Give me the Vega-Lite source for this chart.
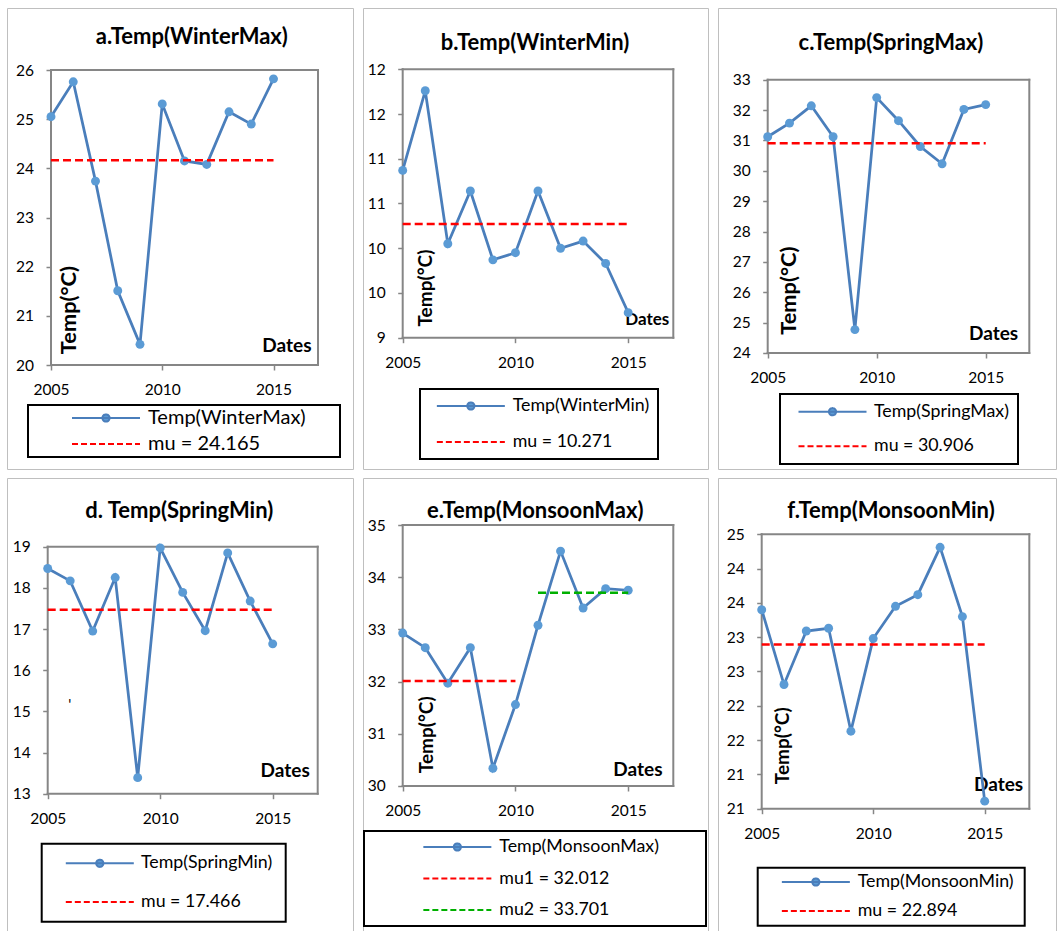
{
  "$schema": "https://vega.github.io/schema/vega-lite/v6.json",
  "padding": {"left": 6, "top": 7, "right": 0, "bottom": 0},
  "background": "white",
  "columns": 3,
  "spacing": {"row": 9, "column": 10},
  "align": "each",
  "bounds": "flush",
  "resolve": {"scale": {"fill": "independent", "stroke": "independent", "shape": "independent", "strokeDash": "independent"}, "legend": {"fill": "independent", "stroke": "independent", "shape": "independent", "strokeDash": "independent"}},
  "datasets": {
    "series": [
      {"panel": "a", "year": 2005, "temp": 25.05, "series": "Temp(WinterMax)"},
      {"panel": "a", "year": 2006, "temp": 25.76, "series": "Temp(WinterMax)"},
      {"panel": "a", "year": 2007, "temp": 23.74, "series": "Temp(WinterMax)"},
      {"panel": "a", "year": 2008, "temp": 21.51, "series": "Temp(WinterMax)"},
      {"panel": "a", "year": 2009, "temp": 20.42, "series": "Temp(WinterMax)"},
      {"panel": "a", "year": 2010, "temp": 25.31, "series": "Temp(WinterMax)"},
      {"panel": "a", "year": 2011, "temp": 24.15, "series": "Temp(WinterMax)"},
      {"panel": "a", "year": 2012, "temp": 24.08, "series": "Temp(WinterMax)"},
      {"panel": "a", "year": 2013, "temp": 25.15, "series": "Temp(WinterMax)"},
      {"panel": "a", "year": 2014, "temp": 24.90, "series": "Temp(WinterMax)"},
      {"panel": "a", "year": 2015, "temp": 25.82, "series": "Temp(WinterMax)"},
      {"panel": "b", "year": 2005, "temp": 10.87, "series": "Temp(WinterMin)"},
      {"panel": "b", "year": 2006, "temp": 11.76, "series": "Temp(WinterMin)"},
      {"panel": "b", "year": 2007, "temp": 10.05, "series": "Temp(WinterMin)"},
      {"panel": "b", "year": 2008, "temp": 10.64, "series": "Temp(WinterMin)"},
      {"panel": "b", "year": 2009, "temp": 9.87, "series": "Temp(WinterMin)"},
      {"panel": "b", "year": 2010, "temp": 9.95, "series": "Temp(WinterMin)"},
      {"panel": "b", "year": 2011, "temp": 10.64, "series": "Temp(WinterMin)"},
      {"panel": "b", "year": 2012, "temp": 10.00, "series": "Temp(WinterMin)"},
      {"panel": "b", "year": 2013, "temp": 10.08, "series": "Temp(WinterMin)"},
      {"panel": "b", "year": 2014, "temp": 9.83, "series": "Temp(WinterMin)"},
      {"panel": "b", "year": 2015, "temp": 9.28, "series": "Temp(WinterMin)"},
      {"panel": "c", "year": 2005, "temp": 31.12, "series": "Temp(SpringMax)"},
      {"panel": "c", "year": 2006, "temp": 31.57, "series": "Temp(SpringMax)"},
      {"panel": "c", "year": 2007, "temp": 32.14, "series": "Temp(SpringMax)"},
      {"panel": "c", "year": 2008, "temp": 31.12, "series": "Temp(SpringMax)"},
      {"panel": "c", "year": 2009, "temp": 24.77, "series": "Temp(SpringMax)"},
      {"panel": "c", "year": 2010, "temp": 32.41, "series": "Temp(SpringMax)"},
      {"panel": "c", "year": 2011, "temp": 31.65, "series": "Temp(SpringMax)"},
      {"panel": "c", "year": 2012, "temp": 30.80, "series": "Temp(SpringMax)"},
      {"panel": "c", "year": 2013, "temp": 30.23, "series": "Temp(SpringMax)"},
      {"panel": "c", "year": 2014, "temp": 32.02, "series": "Temp(SpringMax)"},
      {"panel": "c", "year": 2015, "temp": 32.18, "series": "Temp(SpringMax)"},
      {"panel": "d", "year": 2005, "temp": 18.47, "series": "Temp(SpringMin)"},
      {"panel": "d", "year": 2006, "temp": 18.17, "series": "Temp(SpringMin)"},
      {"panel": "d", "year": 2007, "temp": 16.95, "series": "Temp(SpringMin)"},
      {"panel": "d", "year": 2008, "temp": 18.25, "series": "Temp(SpringMin)"},
      {"panel": "d", "year": 2009, "temp": 13.39, "series": "Temp(SpringMin)"},
      {"panel": "d", "year": 2010, "temp": 18.97, "series": "Temp(SpringMin)"},
      {"panel": "d", "year": 2011, "temp": 17.89, "series": "Temp(SpringMin)"},
      {"panel": "d", "year": 2012, "temp": 16.96, "series": "Temp(SpringMin)"},
      {"panel": "d", "year": 2013, "temp": 18.85, "series": "Temp(SpringMin)"},
      {"panel": "d", "year": 2014, "temp": 17.68, "series": "Temp(SpringMin)"},
      {"panel": "d", "year": 2015, "temp": 16.64, "series": "Temp(SpringMin)"},
      {"panel": "e", "year": 2005, "temp": 32.93, "series": "Temp(MonsoonMax)"},
      {"panel": "e", "year": 2006, "temp": 32.65, "series": "Temp(MonsoonMax)"},
      {"panel": "e", "year": 2007, "temp": 31.97, "series": "Temp(MonsoonMax)"},
      {"panel": "e", "year": 2008, "temp": 32.65, "series": "Temp(MonsoonMax)"},
      {"panel": "e", "year": 2009, "temp": 30.34, "series": "Temp(MonsoonMax)"},
      {"panel": "e", "year": 2010, "temp": 31.56, "series": "Temp(MonsoonMax)"},
      {"panel": "e", "year": 2011, "temp": 33.08, "series": "Temp(MonsoonMax)"},
      {"panel": "e", "year": 2012, "temp": 34.50, "series": "Temp(MonsoonMax)"},
      {"panel": "e", "year": 2013, "temp": 33.41, "series": "Temp(MonsoonMax)"},
      {"panel": "e", "year": 2014, "temp": 33.78, "series": "Temp(MonsoonMax)"},
      {"panel": "e", "year": 2015, "temp": 33.75, "series": "Temp(MonsoonMax)"},
      {"panel": "f", "year": 2005, "temp": 23.40, "series": "Temp(MonsoonMin)"},
      {"panel": "f", "year": 2006, "temp": 22.31, "series": "Temp(MonsoonMin)"},
      {"panel": "f", "year": 2007, "temp": 23.09, "series": "Temp(MonsoonMin)"},
      {"panel": "f", "year": 2008, "temp": 23.13, "series": "Temp(MonsoonMin)"},
      {"panel": "f", "year": 2009, "temp": 21.63, "series": "Temp(MonsoonMin)"},
      {"panel": "f", "year": 2010, "temp": 22.98, "series": "Temp(MonsoonMin)"},
      {"panel": "f", "year": 2011, "temp": 23.45, "series": "Temp(MonsoonMin)"},
      {"panel": "f", "year": 2012, "temp": 23.62, "series": "Temp(MonsoonMin)"},
      {"panel": "f", "year": 2013, "temp": 24.31, "series": "Temp(MonsoonMin)"},
      {"panel": "f", "year": 2014, "temp": 23.30, "series": "Temp(MonsoonMin)"},
      {"panel": "f", "year": 2015, "temp": 20.61, "series": "Temp(MonsoonMin)"}
    ],
    "means": [
      {"panel": "a", "year": 2005, "year2": 2015, "temp": 24.165, "series": "mu = 24.165"},
      {"panel": "b", "year": 2005, "year2": 2015, "temp": 10.271, "series": "mu = 10.271"},
      {"panel": "c", "year": 2005, "year2": 2015, "temp": 30.906, "series": "mu = 30.906"},
      {"panel": "d", "year": 2005, "year2": 2015, "temp": 17.466, "series": "mu = 17.466"},
      {"panel": "e", "year": 2005, "year2": 2010, "temp": 32.012, "series": "mu1 = 32.012"},
      {"panel": "e", "year": 2011, "year2": 2015, "temp": 33.701, "series": "mu2 = 33.701"},
      {"panel": "f", "year": 2005, "year2": 2015, "temp": 22.894, "series": "mu = 22.894"}
    ]
  },
  "config": {
    "font": "Lato",
    "view": {"stroke": "#BFBFBF", "strokeWidth": 1},
    "rule": {"color": "#868686", "strokeWidth": 2, "strokeCap": "square"},
    "axis": {"grid": false, "domain": false, "tickColor": "#868686", "tickSize": 5, "tickWidth": 1.5, "labelFont": "Lato", "labelFontSize": 15.5, "labelColor": "#000000", "labelOverlap": false, "labelFlush": false, "titleFont": "Lato", "titleFontSize": 19, "titleFontWeight": "bold", "titleColor": "#000000"},
    "axisX": {"labelPadding": 12.5},
    "axisY": {"labelPadding": 12.4},
    "title": {"font": "Lato", "fontSize": 22, "fontWeight": "bold", "color": "#000000", "anchor": "middle", "frame": "group", "baseline": "alphabetic"},
    "legend": {"strokeColor": "#000000", "strokeWidth": 2, "fillColor": "#FFFFFF", "symbolSize": 256, "symbolStrokeWidth": 2, "symbolOpacity": 1, "labelFont": "Lato", "labelColor": "#000000", "labelLimit": 600, "labelFontSize": 17.8, "cornerRadius": 0}
  },
  "concat": [
    {
      "width": 346, "height": 461,
      "title": {"text": "a.Temp(WinterMax)", "offset": -41, "dx": 11.8},
      "encoding": {
        "x": {"field": "year", "type": "quantitative", "scale": {"domain": [2003.0225, 2018.573], "nice": false, "zero": false},
              "axis": {"values": [2005, 2010, 2015], "format": "d", "offset": -104, "title": "Dates", "titleX": 304, "titleY": -13.3, "titleAlign": "right", "titleBaseline": "alphabetic"}},
        "y": {"field": "temp", "type": "quantitative", "scale": {"domain": [17.885, 27.261], "nice": false, "zero": false},
              "axis": {"values": [20, 21, 22, 23, 24, 25, 26], "format": "d", "offset": -44, "title": "Temp(°C)", "titleFontSize": 21.8, "titleX": 24, "titleY": 345.7, "titleAngle": 270, "titleAlign": "left", "titleBaseline": "alphabetic"}}
      },
      "layer": [
        {"data": {"name": "series"}, "transform": [{"filter": "datum.panel === 'a' && datum.year === 2005"}], "mark": "rule", "encoding": {"x": {"datum": 2005, "type": "quantitative"}, "y": {"datum": 20, "type": "quantitative"}, "y2": {"datum": 26}}},
        {"data": {"name": "series"}, "transform": [{"filter": "datum.panel === 'a' && datum.year === 2005"}], "mark": "rule", "encoding": {"x": {"datum": 2017, "type": "quantitative"}, "y": {"datum": 20, "type": "quantitative"}, "y2": {"datum": 26}}},
        {"data": {"name": "series"}, "transform": [{"filter": "datum.panel === 'a' && datum.year === 2005"}], "mark": "rule", "encoding": {"y": {"datum": 20, "type": "quantitative"}, "x": {"datum": 2005, "type": "quantitative"}, "x2": {"datum": 2017}}},
        {"data": {"name": "series"}, "transform": [{"filter": "datum.panel === 'a' && datum.year === 2005"}], "mark": "rule", "encoding": {"y": {"datum": 26, "type": "quantitative"}, "x": {"datum": 2005, "type": "quantitative"}, "x2": {"datum": 2017}}},
        {"data": {"name": "series"}, "transform": [{"filter": "datum.panel === 'a'"}],
         "mark": {"type": "line", "color": "#4A7EBB", "strokeWidth": 2.75}},
        {"data": {"name": "series"}, "transform": [{"filter": "datum.panel === 'a'"}],
         "mark": {"type": "point", "filled": true, "size": 80, "color": "#5B9BD5", "opacity": 1}},
        {"data": {"name": "means"}, "transform": [{"filter": "datum.panel === 'a'"}],
         "mark": {"type": "rule", "color": "#FF0000", "strokeWidth": 2.5, "strokeDash": [8, 4], "strokeCap": "butt"},
         "encoding": {"x2": {"field": "year2"}}},
        {"data": {"values": []}, "mark": {"type": "point", "filled": true},
         "encoding": {
           "fill": {"field": "series", "type": "nominal", "scale": {"domain": ["Temp(WinterMax)", "mu = 24.165"], "range": ["#5B9BD5", "#FF0000"]},
             "legend": {"orient": "none", "legendX": 21, "legendY": 397, "title": null, "padding": 3, "rowPadding": 6, "labelFontSize": 20, "symbolOffset": 65, "labelOffset": 32}},
           "stroke": {"field": "series", "type": "nominal", "scale": {"domain": ["Temp(WinterMax)", "mu = 24.165"], "range": ["#4A7EBB", "#FF0000"]}},
           "shape": {"field": "series", "type": "nominal", "scale": {"domain": ["Temp(WinterMax)", "mu = 24.165"], "range": ["M-4.25,0H4.25M0.45,0C0.45,0.2485,0.2485,0.45,0,0.45C-0.2485,0.45,-0.45,0.2485,-0.45,0C-0.45,-0.2485,-0.2485,-0.45,0,-0.45C0.2485,-0.45,0.45,-0.2485,0.45,0ZM28.31,0", "M-4.25,0H4.25M28.31,0"]}},
           "strokeDash": {"field": "series", "type": "nominal", "scale": {"domain": ["Temp(WinterMax)", "mu = 24.165"], "range": [[1, 0], [6, 3]]}}
         }}
      ]
    },
    {
      "width": 345, "height": 461,
      "title": {"text": "b.Temp(WinterMin)", "offset": -46.7, "dx": -0.5},
      "encoding": {
        "x": {"field": "year", "type": "quantitative", "scale": {"domain": [2003.2395, 2018.5388], "nice": false, "zero": false},
              "axis": {"values": [2005, 2010, 2015], "format": "d", "offset": -131.3, "title": "Dates", "titleFontSize": 17, "titleX": 305.7, "titleY": -13.4, "titleAlign": "right", "titleBaseline": "alphabetic"}},
        "y": {"field": "temp", "type": "quantitative", "scale": {"domain": [7.5325, 12.685], "nice": false, "zero": false},
              "axis": {"values": [9, 9.5, 10, 10.5, 11, 11.5, 12], "format": ".0f", "offset": -39.7, "title": "Temp(°C)", "titleX": 28.3, "titleY": 318, "titleAngle": 270, "titleAlign": "left", "titleBaseline": "alphabetic"}}
      },
      "layer": [
        {"data": {"name": "series"}, "transform": [{"filter": "datum.panel === 'b' && datum.year === 2005"}], "mark": "rule", "encoding": {"x": {"datum": 2005, "type": "quantitative"}, "y": {"datum": 9, "type": "quantitative"}, "y2": {"datum": 12}}},
        {"data": {"name": "series"}, "transform": [{"filter": "datum.panel === 'b' && datum.year === 2005"}], "mark": "rule", "encoding": {"x": {"datum": 2017, "type": "quantitative"}, "y": {"datum": 9, "type": "quantitative"}, "y2": {"datum": 12}}},
        {"data": {"name": "series"}, "transform": [{"filter": "datum.panel === 'b' && datum.year === 2005"}], "mark": "rule", "encoding": {"y": {"datum": 9, "type": "quantitative"}, "x": {"datum": 2005, "type": "quantitative"}, "x2": {"datum": 2017}}},
        {"data": {"name": "series"}, "transform": [{"filter": "datum.panel === 'b' && datum.year === 2005"}], "mark": "rule", "encoding": {"y": {"datum": 12, "type": "quantitative"}, "x": {"datum": 2005, "type": "quantitative"}, "x2": {"datum": 2017}}},
        {"data": {"name": "series"}, "transform": [{"filter": "datum.panel === 'b'"}],
         "mark": {"type": "line", "color": "#4A7EBB", "strokeWidth": 2.75}},
        {"data": {"name": "series"}, "transform": [{"filter": "datum.panel === 'b'"}],
         "mark": {"type": "point", "filled": true, "size": 80, "color": "#5B9BD5", "opacity": 1}},
        {"data": {"name": "means"}, "transform": [{"filter": "datum.panel === 'b'"}],
         "mark": {"type": "rule", "color": "#FF0000", "strokeWidth": 2.5, "strokeDash": [8, 4], "strokeCap": "butt"},
         "encoding": {"x2": {"field": "year2"}}},
        {"data": {"values": []}, "mark": {"type": "point", "filled": true},
         "encoding": {
           "fill": {"field": "series", "type": "nominal", "scale": {"domain": ["Temp(WinterMin)", "mu = 10.271"], "range": ["#5B9BD5", "#FF0000"]},
             "legend": {"orient": "none", "legendX": 57, "legendY": 381, "title": null, "padding": 8, "rowPadding": 18, "symbolOffset": 33.85, "labelOffset": 32.85}},
           "stroke": {"field": "series", "type": "nominal", "scale": {"domain": ["Temp(WinterMin)", "mu = 10.271"], "range": ["#4A7EBB", "#FF0000"]}},
           "shape": {"field": "series", "type": "nominal", "scale": {"domain": ["Temp(WinterMin)", "mu = 10.271"], "range": ["M-4.25,0H4.25M0.45,0C0.45,0.2485,0.2485,0.45,0,0.45C-0.2485,0.45,-0.45,0.2485,-0.45,0C-0.45,-0.2485,-0.2485,-0.45,0,-0.45C0.2485,-0.45,0.45,-0.2485,0.45,0ZM21.21,0", "M-4.25,0H4.25M21.21,0"]}},
           "strokeDash": {"field": "series", "type": "nominal", "scale": {"domain": ["Temp(WinterMin)", "mu = 10.271"], "range": [[1, 0], [6, 3]]}}
         }}
      ]
    },
    {
      "width": 338, "height": 461,
      "title": {"text": "c.Temp(SpringMax)", "offset": -46.7, "dx": 4},
      "encoding": {
        "x": {"field": "year", "type": "quantitative", "scale": {"domain": [2002.7202, 2018.2248], "nice": false, "zero": false},
              "axis": {"values": [2005, 2010, 2015], "format": "d", "offset": -116, "title": "Dates", "titleX": 299.7, "titleY": -13.7, "titleAlign": "right", "titleBaseline": "alphabetic"}},
        "y": {"field": "temp", "type": "quantitative", "scale": {"domain": [20.18, 35.361], "nice": false, "zero": false},
              "axis": {"values": [24, 25, 26, 27, 28, 29, 30, 31, 32, 33], "format": "d", "offset": -49.7, "title": "Temp(°C)", "titleFontSize": 21.8, "titleX": 27.6, "titleY": 326.3, "titleAngle": 270, "titleAlign": "left", "titleBaseline": "alphabetic"}}
      },
      "layer": [
        {"data": {"name": "series"}, "transform": [{"filter": "datum.panel === 'c' && datum.year === 2005"}], "mark": "rule", "encoding": {"x": {"datum": 2005, "type": "quantitative"}, "y": {"datum": 24, "type": "quantitative"}, "y2": {"datum": 33}}},
        {"data": {"name": "series"}, "transform": [{"filter": "datum.panel === 'c' && datum.year === 2005"}], "mark": "rule", "encoding": {"x": {"datum": 2017, "type": "quantitative"}, "y": {"datum": 24, "type": "quantitative"}, "y2": {"datum": 33}}},
        {"data": {"name": "series"}, "transform": [{"filter": "datum.panel === 'c' && datum.year === 2005"}], "mark": "rule", "encoding": {"y": {"datum": 24, "type": "quantitative"}, "x": {"datum": 2005, "type": "quantitative"}, "x2": {"datum": 2017}}},
        {"data": {"name": "series"}, "transform": [{"filter": "datum.panel === 'c' && datum.year === 2005"}], "mark": "rule", "encoding": {"y": {"datum": 33, "type": "quantitative"}, "x": {"datum": 2005, "type": "quantitative"}, "x2": {"datum": 2017}}},
        {"data": {"name": "series"}, "transform": [{"filter": "datum.panel === 'c'"}],
         "mark": {"type": "line", "color": "#4A7EBB", "strokeWidth": 2.75}},
        {"data": {"name": "series"}, "transform": [{"filter": "datum.panel === 'c'"}],
         "mark": {"type": "point", "filled": true, "size": 80, "color": "#5B9BD5", "opacity": 1}},
        {"data": {"name": "means"}, "transform": [{"filter": "datum.panel === 'c'"}],
         "mark": {"type": "rule", "color": "#FF0000", "strokeWidth": 2.5, "strokeDash": [8, 4], "strokeCap": "butt"},
         "encoding": {"x2": {"field": "year2"}}},
        {"data": {"values": []}, "mark": {"type": "point", "filled": true},
         "encoding": {
           "fill": {"field": "series", "type": "nominal", "scale": {"domain": ["Temp(SpringMax)", "mu = 30.906"], "range": ["#5B9BD5", "#FF0000"]},
             "legend": {"orient": "none", "legendX": 62, "legendY": 386, "title": null, "padding": 8.7, "rowPadding": 16.6, "symbolOffset": 34.8, "labelOffset": 32.5}},
           "stroke": {"field": "series", "type": "nominal", "scale": {"domain": ["Temp(SpringMax)", "mu = 30.906"], "range": ["#4A7EBB", "#FF0000"]}},
           "shape": {"field": "series", "type": "nominal", "scale": {"domain": ["Temp(SpringMax)", "mu = 30.906"], "range": ["M-4.25,0H4.25M0.45,0C0.45,0.2485,0.2485,0.45,0,0.45C-0.2485,0.45,-0.45,0.2485,-0.45,0C-0.45,-0.2485,-0.2485,-0.45,0,-0.45C0.2485,-0.45,0.45,-0.2485,0.45,0ZM21.29,0", "M-4.25,0H4.25M21.29,0"]}},
           "strokeDash": {"field": "series", "type": "nominal", "scale": {"domain": ["Temp(SpringMax)", "mu = 30.906"], "range": [[1, 0], [6, 3]]}}
         }}
      ]
    },
    {
      "width": 346, "height": 454,
      "title": {"text": "d. Temp(SpringMin)", "offset": -45.3, "dx": -0.7},
      "encoding": {
        "x": {"field": "year", "type": "quantitative", "scale": {"domain": [2003.191, 2018.569], "nice": false, "zero": false},
              "axis": {"values": [2005, 2010, 2015], "format": "d", "offset": -138.3, "title": "Dates", "titleX": 302.3, "titleY": -17.7, "titleAlign": "right", "titleBaseline": "alphabetic"}},
        "y": {"field": "temp", "type": "quantitative", "scale": {"domain": [9.6405, 20.669], "nice": false, "zero": false},
              "axis": {"values": [13, 14, 15, 16, 17, 18, 19], "format": "d", "offset": -40.7, "title": "'", "titleX": 21.6, "titleY": 219, "titleAngle": 0, "titleAlign": "center", "titleBaseline": "top", "titleFontWeight": "normal", "titleFontSize": 15}}
      },
      "layer": [
        {"data": {"name": "series"}, "transform": [{"filter": "datum.panel === 'd' && datum.year === 2005"}], "mark": "rule", "encoding": {"x": {"datum": 2005, "type": "quantitative"}, "y": {"datum": 13, "type": "quantitative"}, "y2": {"datum": 19}}},
        {"data": {"name": "series"}, "transform": [{"filter": "datum.panel === 'd' && datum.year === 2005"}], "mark": "rule", "encoding": {"x": {"datum": 2017, "type": "quantitative"}, "y": {"datum": 13, "type": "quantitative"}, "y2": {"datum": 19}}},
        {"data": {"name": "series"}, "transform": [{"filter": "datum.panel === 'd' && datum.year === 2005"}], "mark": "rule", "encoding": {"y": {"datum": 13, "type": "quantitative"}, "x": {"datum": 2005, "type": "quantitative"}, "x2": {"datum": 2017}}},
        {"data": {"name": "series"}, "transform": [{"filter": "datum.panel === 'd' && datum.year === 2005"}], "mark": "rule", "encoding": {"y": {"datum": 19, "type": "quantitative"}, "x": {"datum": 2005, "type": "quantitative"}, "x2": {"datum": 2017}}},
        {"data": {"name": "series"}, "transform": [{"filter": "datum.panel === 'd'"}],
         "mark": {"type": "line", "color": "#4A7EBB", "strokeWidth": 2.75}},
        {"data": {"name": "series"}, "transform": [{"filter": "datum.panel === 'd'"}],
         "mark": {"type": "point", "filled": true, "size": 80, "color": "#5B9BD5", "opacity": 1}},
        {"data": {"name": "means"}, "transform": [{"filter": "datum.panel === 'd'"}],
         "mark": {"type": "rule", "color": "#FF0000", "strokeWidth": 2.5, "strokeDash": [8, 4], "strokeCap": "butt"},
         "encoding": {"x2": {"field": "year2"}}},
        {"data": {"values": []}, "mark": {"type": "point", "filled": true},
         "encoding": {
           "fill": {"field": "series", "type": "nominal", "scale": {"domain": ["Temp(SpringMin)", "mu = 17.466"], "range": ["#5B9BD5", "#FF0000"]},
             "legend": {"orient": "none", "legendX": 34.7, "legendY": 365.7, "title": null, "padding": 10.6, "rowPadding": 20.7, "symbolOffset": 38.5, "labelOffset": 32.2}},
           "stroke": {"field": "series", "type": "nominal", "scale": {"domain": ["Temp(SpringMin)", "mu = 17.466"], "range": ["#4A7EBB", "#FF0000"]}},
           "shape": {"field": "series", "type": "nominal", "scale": {"domain": ["Temp(SpringMin)", "mu = 17.466"], "range": ["M-4.25,0H4.25M0.45,0C0.45,0.2485,0.2485,0.45,0,0.45C-0.2485,0.45,-0.45,0.2485,-0.45,0C-0.45,-0.2485,-0.2485,-0.45,0,-0.45C0.2485,-0.45,0.45,-0.2485,0.45,0ZM21.35,0", "M-4.25,0H4.25M21.35,0"]}},
           "strokeDash": {"field": "series", "type": "nominal", "scale": {"domain": ["Temp(SpringMin)", "mu = 17.466"], "range": [[1, 0], [6, 3]]}}
         }}
      ]
    },
    {
      "width": 345, "height": 454,
      "title": {"text": "e.Temp(MonsoonMax)", "offset": -45.3, "dx": -0.3},
      "encoding": {
        "x": {"field": "year", "type": "quantitative", "scale": {"domain": [2003.2395, 2018.5388], "nice": false, "zero": false},
              "axis": {"values": [2005, 2010, 2015], "format": "d", "offset": -146, "title": "Dates", "titleX": 299, "titleY": -11, "titleAlign": "right", "titleBaseline": "alphabetic"}},
        "y": {"field": "temp", "type": "quantitative", "scale": {"domain": [27.203, 35.9004], "nice": false, "zero": false},
              "axis": {"values": [30, 31, 32, 33, 34, 35], "format": "d", "offset": -39.7, "title": "Temp(°C)", "titleX": 29.3, "titleY": 294.7, "titleAngle": 270, "titleAlign": "left", "titleBaseline": "alphabetic"}}
      },
      "layer": [
        {"data": {"name": "series"}, "transform": [{"filter": "datum.panel === 'e' && datum.year === 2005"}], "mark": "rule", "encoding": {"x": {"datum": 2005, "type": "quantitative"}, "y": {"datum": 30, "type": "quantitative"}, "y2": {"datum": 35}}},
        {"data": {"name": "series"}, "transform": [{"filter": "datum.panel === 'e' && datum.year === 2005"}], "mark": "rule", "encoding": {"x": {"datum": 2017, "type": "quantitative"}, "y": {"datum": 30, "type": "quantitative"}, "y2": {"datum": 35}}},
        {"data": {"name": "series"}, "transform": [{"filter": "datum.panel === 'e' && datum.year === 2005"}], "mark": "rule", "encoding": {"y": {"datum": 30, "type": "quantitative"}, "x": {"datum": 2005, "type": "quantitative"}, "x2": {"datum": 2017}}},
        {"data": {"name": "series"}, "transform": [{"filter": "datum.panel === 'e' && datum.year === 2005"}], "mark": "rule", "encoding": {"y": {"datum": 35, "type": "quantitative"}, "x": {"datum": 2005, "type": "quantitative"}, "x2": {"datum": 2017}}},
        {"data": {"name": "series"}, "transform": [{"filter": "datum.panel === 'e'"}],
         "mark": {"type": "line", "color": "#4A7EBB", "strokeWidth": 2.75}},
        {"data": {"name": "series"}, "transform": [{"filter": "datum.panel === 'e'"}],
         "mark": {"type": "point", "filled": true, "size": 80, "color": "#5B9BD5", "opacity": 1}},
        {"data": {"name": "means"}, "transform": [{"filter": "datum.series === 'mu1 = 32.012'"}],
         "mark": {"type": "rule", "color": "#FF0000", "strokeWidth": 2.5, "strokeDash": [8, 4], "strokeCap": "butt"},
         "encoding": {"x2": {"field": "year2"}}},
        {"data": {"name": "means"}, "transform": [{"filter": "datum.series === 'mu2 = 33.701'"}],
         "mark": {"type": "rule", "color": "#00B000", "strokeWidth": 2.5, "strokeDash": [8, 4], "strokeCap": "butt"},
         "encoding": {"x2": {"field": "year2"}}},
        {"data": {"values": []}, "mark": {"type": "point", "filled": true},
         "encoding": {
           "fill": {"field": "series", "type": "nominal", "scale": {"domain": ["Temp(MonsoonMax)", "mu1 = 32.012", "mu2 = 33.701"], "range": ["#5B9BD5", "#FF0000", "#00B000"]},
             "legend": {"orient": "none", "legendX": 1, "legendY": 353, "title": null, "padding": 7, "rowPadding": 13.5, "symbolOffset": 77.35, "labelOffset": 32.95}},
           "stroke": {"field": "series", "type": "nominal", "scale": {"domain": ["Temp(MonsoonMax)", "mu1 = 32.012", "mu2 = 33.701"], "range": ["#4A7EBB", "#FF0000", "#00B000"]}},
           "shape": {"field": "series", "type": "nominal", "scale": {"domain": ["Temp(MonsoonMax)", "mu1 = 32.012", "mu2 = 33.701"], "range": ["M-4.25,0H4.25M0.45,0C0.45,0.2485,0.2485,0.45,0,0.45C-0.2485,0.45,-0.45,0.2485,-0.45,0C-0.45,-0.2485,-0.2485,-0.45,0,-0.45C0.2485,-0.45,0.45,-0.2485,0.45,0ZM29.65,0", "M-4.25,0H4.25M29.65,0", "M-4.25,0H4.25M29.65,0"]}},
           "strokeDash": {"field": "series", "type": "nominal", "scale": {"domain": ["Temp(MonsoonMax)", "mu1 = 32.012", "mu2 = 33.701"], "range": [[1, 0], [6, 3], [6, 3]]}}
         }}
      ]
    },
    {
      "width": 338, "height": 454,
      "title": {"text": "f.Temp(MonsoonMin)", "offset": -45.3, "dx": 4},
      "encoding": {
        "x": {"field": "year", "type": "quantitative", "scale": {"domain": [2003.0404, 2018.197], "nice": false, "zero": false},
              "axis": {"values": [2005, 2010, 2015], "format": "d", "offset": -123.3, "title": "Dates", "titleX": 304.7, "titleY": -18.4, "titleAlign": "right", "titleBaseline": "alphabetic"}},
        "y": {"field": "temp", "type": "quantitative", "scale": {"domain": [18.7026, 25.3207], "nice": false, "zero": false},
              "axis": {"values": [20.5, 21, 21.5, 22, 22.5, 23, 23.5, 24, 24.5], "format": ".0f", "offset": -43.7, "title": "Temp(°C)", "titleX": 26.6, "titleY": 305.7, "titleAngle": 270, "titleAlign": "left", "titleBaseline": "alphabetic"}}
      },
      "layer": [
        {"data": {"name": "series"}, "transform": [{"filter": "datum.panel === 'f' && datum.year === 2005"}], "mark": "rule", "encoding": {"x": {"datum": 2005, "type": "quantitative"}, "y": {"datum": 20.5, "type": "quantitative"}, "y2": {"datum": 24.5}}},
        {"data": {"name": "series"}, "transform": [{"filter": "datum.panel === 'f' && datum.year === 2005"}], "mark": "rule", "encoding": {"x": {"datum": 2017, "type": "quantitative"}, "y": {"datum": 20.5, "type": "quantitative"}, "y2": {"datum": 24.5}}},
        {"data": {"name": "series"}, "transform": [{"filter": "datum.panel === 'f' && datum.year === 2005"}], "mark": "rule", "encoding": {"y": {"datum": 20.5, "type": "quantitative"}, "x": {"datum": 2005, "type": "quantitative"}, "x2": {"datum": 2017}}},
        {"data": {"name": "series"}, "transform": [{"filter": "datum.panel === 'f' && datum.year === 2005"}], "mark": "rule", "encoding": {"y": {"datum": 24.5, "type": "quantitative"}, "x": {"datum": 2005, "type": "quantitative"}, "x2": {"datum": 2017}}},
        {"data": {"name": "series"}, "transform": [{"filter": "datum.panel === 'f'"}],
         "mark": {"type": "line", "color": "#4A7EBB", "strokeWidth": 2.75}},
        {"data": {"name": "series"}, "transform": [{"filter": "datum.panel === 'f'"}],
         "mark": {"type": "point", "filled": true, "size": 80, "color": "#5B9BD5", "opacity": 1}},
        {"data": {"name": "means"}, "transform": [{"filter": "datum.panel === 'f'"}],
         "mark": {"type": "rule", "color": "#FF0000", "strokeWidth": 2.5, "strokeDash": [8, 4], "strokeCap": "butt"},
         "encoding": {"x2": {"field": "year2"}}},
        {"data": {"values": []}, "mark": {"type": "point", "filled": true},
         "encoding": {
           "fill": {"field": "series", "type": "nominal", "scale": {"domain": ["Temp(MonsoonMin)", "mu = 22.894"], "range": ["#5B9BD5", "#FF0000"]},
             "legend": {"orient": "none", "legendX": 39.7, "legendY": 389.7, "title": null, "padding": 5.3, "rowPadding": 11, "symbolOffset": 43.85, "labelOffset": 32.85}},
           "stroke": {"field": "series", "type": "nominal", "scale": {"domain": ["Temp(MonsoonMin)", "mu = 22.894"], "range": ["#4A7EBB", "#FF0000"]}},
           "shape": {"field": "series", "type": "nominal", "scale": {"domain": ["Temp(MonsoonMin)", "mu = 22.894"], "range": ["M-4.25,0H4.25M0.45,0C0.45,0.2485,0.2485,0.45,0,0.45C-0.2485,0.45,-0.45,0.2485,-0.45,0C-0.45,-0.2485,-0.2485,-0.45,0,-0.45C0.2485,-0.45,0.45,-0.2485,0.45,0ZM24.92,0", "M-4.25,0H4.25M24.92,0"]}},
           "strokeDash": {"field": "series", "type": "nominal", "scale": {"domain": ["Temp(MonsoonMin)", "mu = 22.894"], "range": [[1, 0], [6, 3]]}}
         }}
      ]
    }
  ]
}
